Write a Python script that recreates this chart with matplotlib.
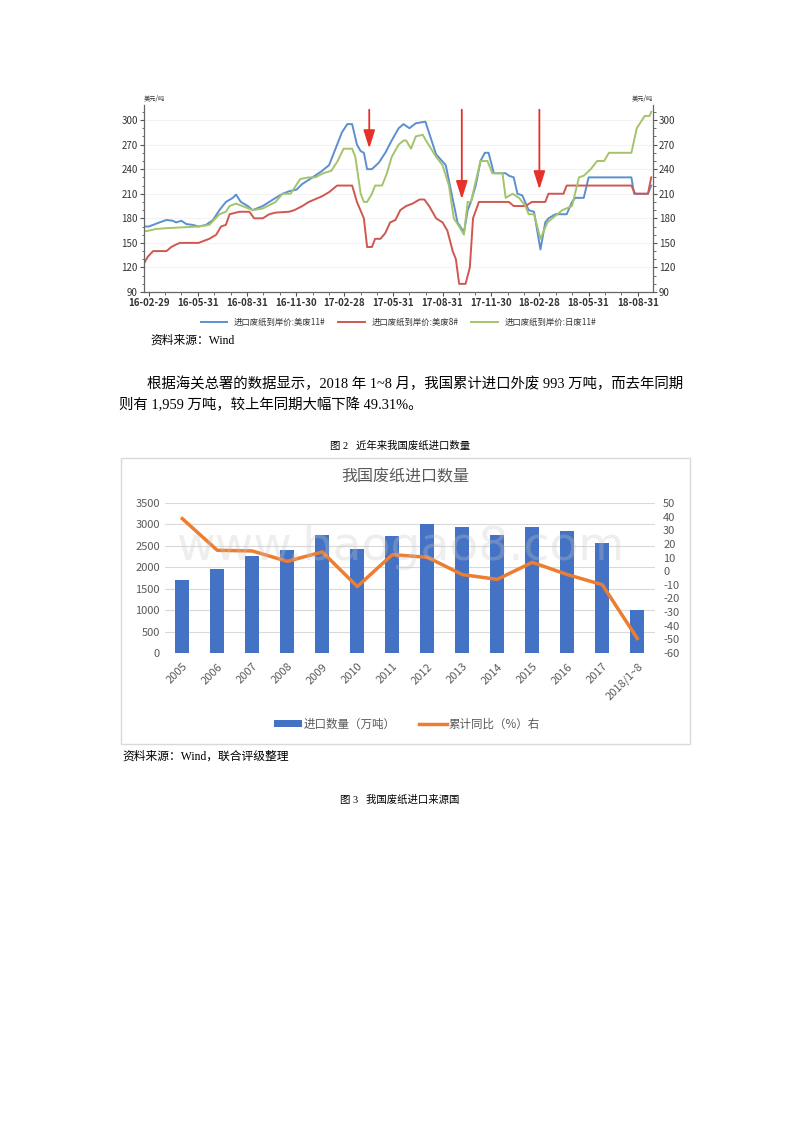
import matplotlib
matplotlib.use("Agg")
import matplotlib.pyplot as plt
import matplotlib.dates as mdates
import matplotlib.patches as mpatches
from matplotlib.lines import Line2D
from matplotlib.ticker import MultipleLocator
import pandas as pd

CJK = ["Noto Sans CJK SC", "DejaVu Sans"]
SERIF = ["Liberation Serif", "Noto Sans CJK SC"]
plt.rcParams["font.family"] = CJK
plt.rcParams["axes.unicode_minus"] = False

# ---------------- figure 1: 进口废纸到岸价 ----------------
us11_dates = ["2016-02-20", "2016-02-29", "2016-03-20", "2016-04-02", "2016-04-14", "2016-04-20",
              "2016-04-30", "2016-05-09", "2016-05-21", "2016-06-01", "2016-06-15", "2016-06-28",
              "2016-07-10", "2016-07-22", "2016-08-04", "2016-08-10", "2016-08-19", "2016-09-01",
              "2016-09-10", "2016-09-29", "2016-10-23", "2016-11-05", "2016-11-17", "2016-12-01",
              "2016-12-12", "2016-12-31", "2017-01-18", "2017-01-31", "2017-02-12", "2017-02-24",
              "2017-03-06", "2017-03-15", "2017-03-24", "2017-03-31", "2017-04-06", "2017-04-12",
              "2017-04-21", "2017-05-04", "2017-05-16", "2017-05-28", "2017-06-10", "2017-06-19",
              "2017-06-30", "2017-07-12", "2017-07-30", "2017-08-19", "2017-09-06", "2017-09-28",
              "2017-10-10", "2017-10-17", "2017-10-23", "2017-11-01", "2017-11-10", "2017-11-18",
              "2017-11-25", "2017-12-05", "2017-12-27", "2018-01-02", "2018-01-11", "2018-01-18",
              "2018-01-27", "2018-02-08", "2018-02-18", "2018-03-02", "2018-03-11", "2018-03-17",
              "2018-03-30", "2018-04-20", "2018-04-30", "2018-05-06", "2018-05-22", "2018-05-31",
              "2018-08-19", "2018-08-24", "2018-09-19", "2018-09-25"]
us11_vals = [170, 170, 175, 178, 177, 175, 177, 173, 172, 170, 172, 178, 190, 200, 205, 209, 200, 195,
             190, 195, 205, 210, 213, 215, 222, 230, 238, 245, 265, 285, 295, 295, 270, 262, 260, 240,
             240, 248, 260, 275, 290, 295, 290, 296, 298, 258, 245, 175, 163, 190, 200, 220, 250, 260,
             260, 235, 235, 232, 230, 210, 208, 190, 188, 142, 175, 180, 185, 185, 200, 205, 205, 230,
             230, 210, 210, 220]

us8_dates = ["2016-02-20", "2016-02-27", "2016-03-08", "2016-04-02", "2016-04-11", "2016-04-20",
             "2016-04-27", "2016-06-01", "2016-06-09", "2016-06-21", "2016-07-04", "2016-07-13",
             "2016-07-22", "2016-07-29", "2016-08-10", "2016-08-16", "2016-09-04", "2016-09-13",
             "2016-09-29", "2016-10-11", "2016-10-23", "2016-11-17", "2016-11-27", "2016-12-12",
             "2016-12-24", "2017-01-18", "2017-01-31", "2017-02-15", "2017-03-15", "2017-03-24",
             "2017-04-06", "2017-04-12", "2017-04-21", "2017-04-27", "2017-05-07", "2017-05-16",
             "2017-05-25", "2017-06-04", "2017-06-13", "2017-06-24", "2017-07-06", "2017-07-19",
             "2017-07-28", "2017-08-06", "2017-08-19", "2017-08-31", "2017-09-09", "2017-09-19",
             "2017-09-25", "2017-10-01", "2017-10-13", "2017-10-21", "2017-10-27", "2017-11-07",
             "2018-01-02", "2018-01-11", "2018-02-02", "2018-02-14", "2018-03-11", "2018-03-17",
             "2018-04-14", "2018-04-20", "2018-08-19", "2018-08-26", "2018-09-19", "2018-09-25"]
us8_vals = [125, 133, 140, 140, 145, 148, 150, 150, 152, 155, 160, 170, 172, 185, 187, 188, 188, 180,
            180, 185, 187, 188, 190, 195, 200, 207, 212, 220, 220, 200, 180, 145, 145, 155, 155, 162,
            175, 178, 190, 195, 198, 203, 203, 195, 180, 175, 165, 140, 130, 100, 100, 120, 180, 200,
            200, 195, 195, 200, 200, 210, 210, 220, 220, 210, 210, 230]

jp11_dates = ["2016-02-20", "2016-02-29", "2016-03-14", "2016-04-02", "2016-06-01", "2016-06-21",
              "2016-07-10", "2016-07-22", "2016-07-29", "2016-08-10", "2016-08-22", "2016-09-10",
              "2016-09-29", "2016-10-23", "2016-11-05", "2016-11-20", "2016-12-08", "2016-12-24",
              "2017-01-05", "2017-01-20", "2017-02-04", "2017-02-16", "2017-02-27", "2017-03-15",
              "2017-03-21", "2017-03-31", "2017-04-06", "2017-04-12", "2017-04-21", "2017-04-27",
              "2017-05-10", "2017-05-19", "2017-05-28", "2017-06-10", "2017-06-19", "2017-06-24",
              "2017-07-03", "2017-07-12", "2017-07-25", "2017-07-31", "2017-08-19", "2017-08-31",
              "2017-09-12", "2017-09-21", "2017-10-01", "2017-10-10", "2017-10-17", "2017-10-23",
              "2017-11-10", "2017-11-23", "2017-12-02", "2017-12-21", "2017-12-27", "2018-01-09",
              "2018-01-21", "2018-02-02", "2018-02-08", "2018-02-18", "2018-03-02", "2018-03-15",
              "2018-03-24", "2018-04-12", "2018-04-30", "2018-05-13", "2018-05-22", "2018-06-04",
              "2018-06-16", "2018-06-29", "2018-07-08", "2018-08-19", "2018-08-29", "2018-09-13",
              "2018-09-22", "2018-09-25"]
jp11_vals = [164, 165, 167, 168, 170, 172, 185, 188, 195, 198, 195, 190, 192, 200, 210, 210, 228, 230,
             230, 235, 238, 250, 265, 265, 255, 210, 200, 200, 210, 220, 220, 235, 255, 270, 275, 275,
             265, 280, 282, 275, 255, 245, 220, 180, 170, 160, 200, 200, 250, 250, 235, 235, 205, 210,
             205, 195, 185, 185, 155, 175, 180, 190, 195, 230, 232, 240, 250, 250, 260, 260, 290, 305,
             305, 310]

price_ticks = ["2016-02-29", "2016-05-31", "2016-08-31", "2016-11-30", "2017-02-28", "2017-05-31",
               "2017-08-31", "2017-11-30", "2018-02-28", "2018-05-31", "2018-08-31"]
price_labels = ["16-02-29", "16-05-31", "16-08-31", "16-11-30", "17-02-28", "17-05-31",
                "17-08-31", "17-11-30", "18-02-28", "18-05-31", "18-08-31"]
price_series = ["进口废纸到岸价:美废11#", "进口废纸到岸价:美废8#", "进口废纸到岸价:日废11#"]
arrow_dates = ["2017-04-16", "2017-10-06", "2018-02-28"]
arrow_tips = [262, 200, 212]

# ---------------- figure 2: 我国废纸进口数量 ----------------
years = ["2005", "2006", "2007", "2008", "2009", "2010", "2011", "2012", "2013",
         "2014", "2015", "2016", "2017", "2018/1~8"]
import_qty = [1710, 1968, 2256, 2411, 2753, 2434, 2738, 3010, 2932, 2753, 2932, 2854, 2567, 993]
yoy_pct = [38.5, 15.3, 14.8, 7.2, 14.1, -11.3, 12.1, 10.2, -2.5, -6.0, 6.5, -2.5, -9.9, -49.3]


def px(x, y):
    return x / 800, 1 - y / 1132


fig = plt.figure(figsize=(8, 11.32), dpi=100)
fig.patch.set_facecolor("white")

# ---- price line chart ----
ax = fig.add_axes([0.18, 0.742, 0.636, 0.165])
colors = ["#5b8fd0", "#d0574f", "#a3c46a"]
for d, v, c, name in zip([us11_dates, us8_dates, jp11_dates], [us11_vals, us8_vals, jp11_vals],
                         colors, price_series):
    ax.plot(pd.to_datetime(d), v, color=c, lw=1.4, label=name)

ax.set_xlim(pd.Timestamp("2016-02-20"), pd.Timestamp("2018-09-28"))
ax.set_ylim(90, 318)
ax.set_yticks(range(90, 301, 30))
ax.yaxis.set_minor_locator(MultipleLocator(10))
ax.set_xticks(pd.to_datetime(price_ticks))
ax.set_xticklabels(price_labels)
ax.xaxis.set_minor_locator(mdates.MonthLocator(bymonthday=-1))
ax.grid(axis="y", color="#f0f0f0", lw=0.6)
for s in ["left", "right", "bottom"]:
    ax.spines[s].set_color("#666666")
    ax.spines[s].set_linewidth(0.9)
ax.spines["top"].set_visible(False)
ax.tick_params(axis="both", which="major", labelsize=7, colors="#555555", length=3,
               labelcolor="#333333", right=True, labelright=True, pad=1.5)
ax.tick_params(axis="both", which="minor", length=1.8, colors="#555555", right=True)
for lab in ax.get_xticklabels():
    lab.set_fontweight("bold")
ax.text(0.0, 1.01, "美元/吨", transform=ax.transAxes, fontsize=4.5, ha="left", va="bottom",
        color="#333333")
ax.text(1.0, 1.01, "美元/吨", transform=ax.transAxes, fontsize=4.5, ha="right", va="bottom",
        color="#333333")

for d, tip in zip(arrow_dates, arrow_tips):
    t = pd.Timestamp(d)
    ax.annotate("", xy=(t, tip), xytext=(t, 316),
                arrowprops=dict(arrowstyle="-|>,head_width=0.35,head_length=1.1",
                                color="#e8302a", lw=1.3))

ax.legend(loc="upper center", bbox_to_anchor=(0.5, -0.1), ncol=3, frameon=False, fontsize=6,
          handlelength=3.2, columnspacing=1.5, labelcolor="#333333")

fig.text(*px(150, 341), "资料来源：Wind", family=SERIF, fontsize=8.5, va="center", ha="left")

fig.text(*px(147, 384), "根据海关总署的数据显示，2018 年 1~8 月，我国累计进口外废 993 万吨，而去年同期",
         family=SERIF, fontsize=10.4, va="center", ha="left")
fig.text(*px(119, 405), "则有 1,959 万吨，较上年同期大幅下降 49.31%。",
         family=SERIF, fontsize=10.4, va="center", ha="left")

fig.text(*px(400, 446), "图 2   近年来我国废纸进口数量", family=SERIF, fontsize=7.5,
         va="center", ha="center")

# ---- import volume chart ----
x0, y0 = px(121, 744)
x1, y1 = px(690, 458)
fig.add_artist(mpatches.Rectangle((x0, y0), x1 - x0, y1 - y0, transform=fig.transFigure,
                                  facecolor="white", edgecolor="#d9d9d9", lw=1.0, zorder=0))

ax2 = fig.add_axes([0.206, 0.4231, 0.6125, 0.1326])
ax2.set_zorder(1)
xs = range(len(years))
ax2.bar(xs, import_qty, width=0.4, color="#4472c4", zorder=2)
ax2.set_ylim(0, 3500)
ax2.set_yticks(range(0, 3501, 500))
ax2.set_xlim(-0.5, len(years) - 0.5)
ax2.set_xticks(list(xs))
ax2.set_xticklabels(years, rotation=45, ha="right", rotation_mode="anchor")
ax2.grid(axis="y", color="#d9d9d9", lw=0.8, zorder=0)
ax2.set_axisbelow(True)
for s in ax2.spines.values():
    s.set_visible(False)
ax2.tick_params(axis="both", length=0, labelsize=8, labelcolor="#595959")
ax2.tick_params(axis="x", pad=6)
ax2.patch.set_alpha(0)

ax2r = ax2.twinx()
ax2r.plot(list(xs), yoy_pct, color="#ed7d31", lw=2.5, zorder=3)
ax2r.set_ylim(-60, 50)
ax2r.set_yticks(range(-60, 51, 10))
for s in ax2r.spines.values():
    s.set_visible(False)
ax2r.tick_params(axis="y", length=0, labelsize=8, labelcolor="#595959", pad=6)

fig.text(*px(405, 477), "我国废纸进口数量", fontsize=11.5, color="#595959", ha="center", va="center")
fig.text(*px(400, 548), "www.baogao8.com", fontsize=34, color="#c8c8c8", alpha=0.3,
         ha="center", va="center", family=["DejaVu Sans"], zorder=10)

handles = [mpatches.Patch(facecolor="#4472c4", edgecolor="none"),
           Line2D([0], [0], color="#ed7d31", lw=2.5)]
fig.legend(handles, ["进口数量（万吨）", "累计同比（%）右"], loc="center",
           bbox_to_anchor=px(407, 724), ncol=2, frameon=False, fontsize=8.3,
           labelcolor="#595959", handlelength=2.4, handleheight=0.6, handletextpad=0.2,
           columnspacing=2.0)

fig.text(*px(122, 757), "资料来源：Wind，联合评级整理", family=SERIF, fontsize=8.5,
         va="center", ha="left")
fig.text(*px(400, 800), "图 3   我国废纸进口来源国", family=SERIF, fontsize=7.5,
         va="center", ha="center")

fig.savefig("out.png", dpi=100, facecolor="white")
